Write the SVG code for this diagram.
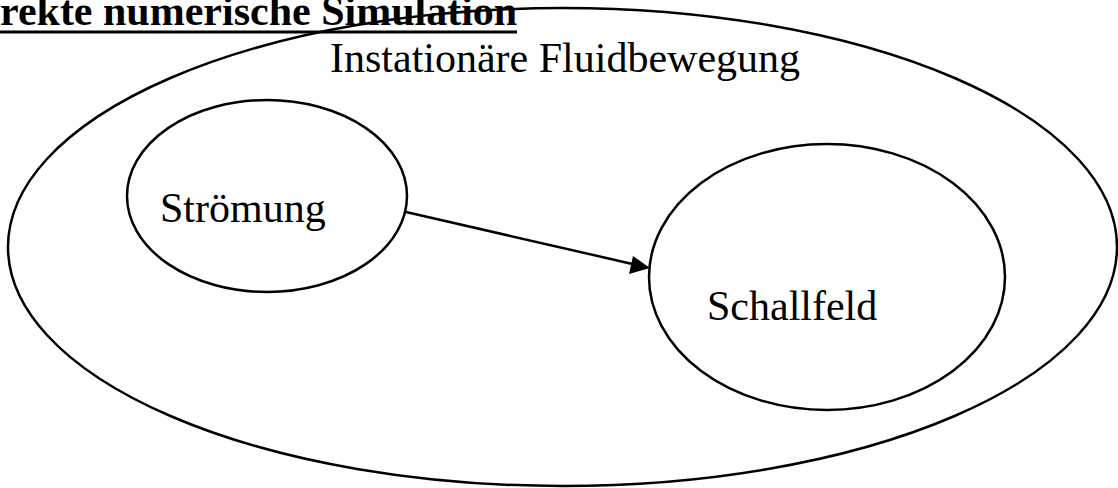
<svg xmlns="http://www.w3.org/2000/svg" width="1118" height="488" viewBox="0 0 1118 488">
<style>
.e{fill:none;stroke:#000;stroke-width:2.5}
.t{font-family:"Liberation Serif","Times New Roman",serif;font-size:42px;fill:#000}
.c{stroke:#000;stroke-width:2.5;fill:none}
</style>
<rect width="1118" height="488" fill="#fff"/>
<g id="title">
<text x="-42" y="25" class="t" font-weight="bold">Direkte numerische Simulation</text>
<rect x="0" y="30.5" width="517" height="3" fill="#000"/>
</g>
<g id="fluid">
<ellipse cx="562.5" cy="247" rx="554.5" ry="239" class="e"/>
<text x="330" y="72" class="t">Instationäre Fluidbewegung</text>
</g>
<g id="stroemung">
<ellipse cx="267" cy="196" rx="140" ry="96" class="e"/>
<text x="160" y="222" class="t">Strömung</text>
</g>
<g id="schallfeld">
<ellipse cx="827" cy="277" rx="178" ry="133" class="e"/>
<text x="707" y="320" class="t">Schallfeld</text>
</g>
<g id="connectors">
<line x1="406" y1="212" x2="640" y2="265.7" class="c"/>
<path d="M650,268 L629,274 L633,256 Z" fill="#000"/>
</g>
</svg>
